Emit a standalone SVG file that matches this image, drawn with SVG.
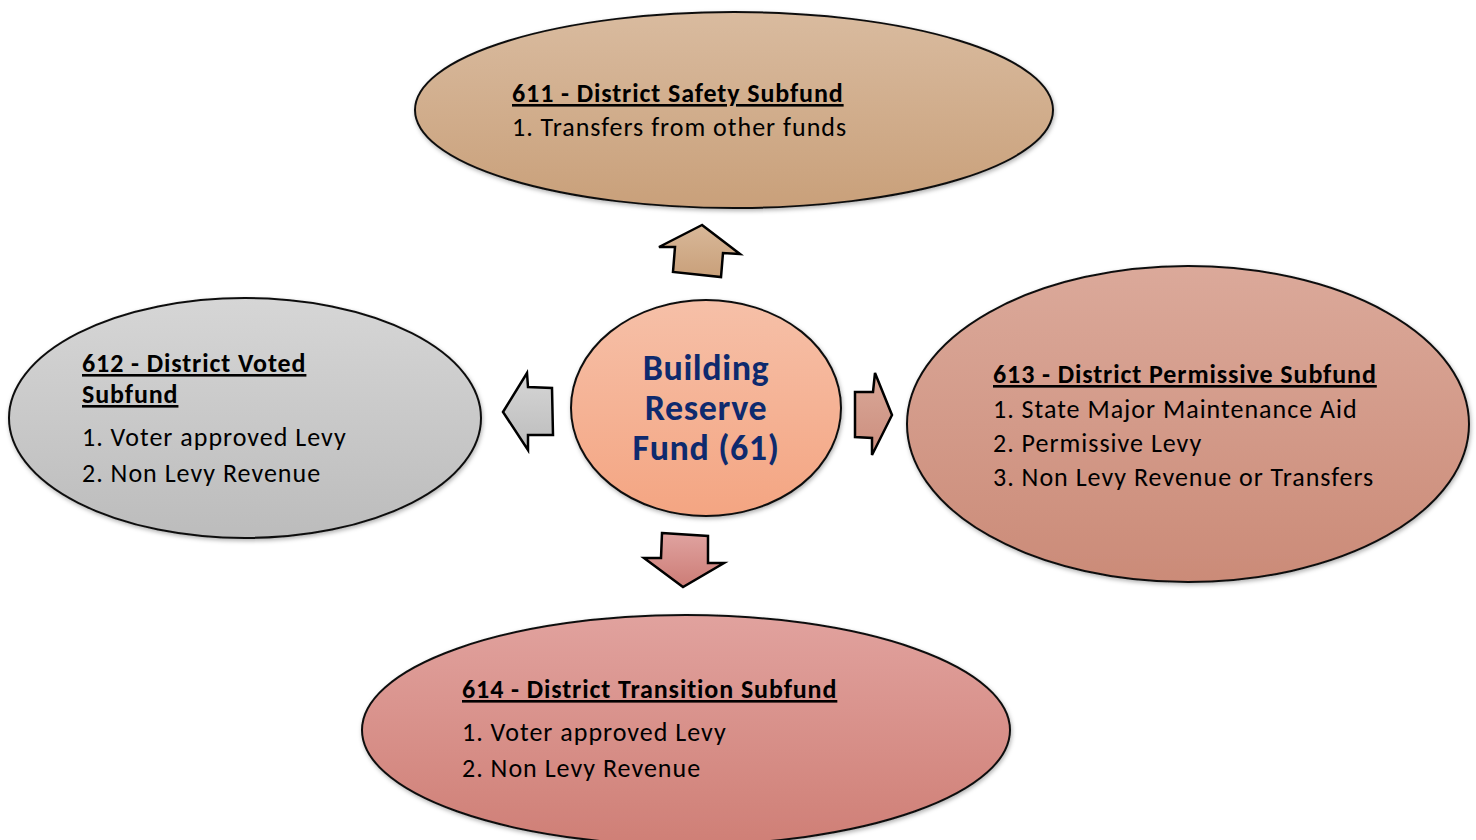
<svg xmlns="http://www.w3.org/2000/svg" width="1476" height="840" viewBox="0 0 1476 840">
<defs>
<linearGradient id="gTop" x1="0" y1="0" x2="0" y2="1"><stop offset="0" stop-color="#d9bb9f"/><stop offset="1" stop-color="#c9a07a"/></linearGradient>
<linearGradient id="gCenter" x1="0" y1="0" x2="0" y2="1"><stop offset="0" stop-color="#f6c0a8"/><stop offset="1" stop-color="#f4a582"/></linearGradient>
<linearGradient id="gLeft" x1="0" y1="0" x2="0" y2="1"><stop offset="0" stop-color="#d6d6d6"/><stop offset="1" stop-color="#bcbcbc"/></linearGradient>
<linearGradient id="gRight" x1="0" y1="0" x2="0" y2="1"><stop offset="0" stop-color="#dba99a"/><stop offset="1" stop-color="#cb8b78"/></linearGradient>
<linearGradient id="gBottom" x1="0" y1="0" x2="0" y2="1"><stop offset="0" stop-color="#e1a29e"/><stop offset="1" stop-color="#cf7f76"/></linearGradient>
<linearGradient id="gArrUp" x1="0" y1="0" x2="0" y2="1"><stop offset="0" stop-color="#d8b899"/><stop offset="1" stop-color="#c9a07a"/></linearGradient>
<linearGradient id="gArrRight" x1="0" y1="0" x2="0" y2="1"><stop offset="0" stop-color="#d9a898"/><stop offset="1" stop-color="#cc8e7e"/></linearGradient>
<linearGradient id="gArrDown" x1="0" y1="0" x2="0" y2="1"><stop offset="0" stop-color="#e0a3a0"/><stop offset="1" stop-color="#cc7c76"/></linearGradient>
<filter id="sh" x="-10%" y="-10%" width="120%" height="125%"><feDropShadow dx="1" dy="2" stdDeviation="2" flood-color="#000" flood-opacity="0.3"/></filter>
</defs>
<style>
.shape{stroke:#111;stroke-width:2;filter:url(#sh)}
.arrow{stroke:#000;stroke-width:2.5;stroke-linejoin:miter}
text{font-family:Carlito,Lato,"Liberation Sans",sans-serif;fill:#000;font-variant-ligatures:none}
.title{font-size:26px;font-weight:bold;text-decoration:underline;letter-spacing:0.9px}
.item{font-size:26px;letter-spacing:1px}
.center{font-size:36px;font-weight:bold;fill:#0e2a6e;text-anchor:middle;letter-spacing:0.6px}
</style>
<g id="connectors">
<polygon class="arrow" fill="url(#gArrUp)" points="702,225 659,247 675,247 673,272 721,277 723,253 740,254"/>
<polygon class="arrow" fill="url(#gArrRight)" points="855,392 873,392 875,373 892,415 872,455 872,438 855,437"/>
<polygon class="arrow" fill="url(#gArrDown)" points="662,533 708,536 708,563 724,563 683,587 644,558 661,558"/>
<polygon class="arrow" fill="url(#gLeft)" points="503,412 527,373 528,387 552,388 553,435 528,435 528,450"/>
</g>
<g id="node-611">
<ellipse class="shape" cx="734" cy="110" rx="319" ry="98" fill="url(#gTop)"/>
<text class="title" x="512" y="102">611 - District Safety Subfund</text>
<text class="item" x="512" y="136">1. Transfers from other funds</text>
</g>
<g id="node-612">
<ellipse class="shape" cx="245" cy="418" rx="236" ry="120" fill="url(#gLeft)"/>
<text class="title" x="82" y="372">612 - District Voted</text>
<text class="title" x="82" y="403">Subfund</text>
<text class="item" x="82" y="446">1. Voter approved Levy</text>
<text class="item" x="82" y="482">2. Non Levy Revenue</text>
</g>
<g id="node-613">
<ellipse class="shape" cx="1188" cy="424" rx="281" ry="158" fill="url(#gRight)"/>
<text class="title" x="993" y="383">613 - District Permissive Subfund</text>
<text class="item" x="993" y="418">1. State Major Maintenance Aid</text>
<text class="item" x="993" y="452">2. Permissive Levy</text>
<text class="item" x="993" y="486">3. Non Levy Revenue or Transfers</text>
</g>
<g id="node-614">
<ellipse class="shape" cx="686" cy="730" rx="324" ry="115" fill="url(#gBottom)"/>
<text class="title" x="462" y="698">614 - District Transition Subfund</text>
<text class="item" x="462" y="741">1. Voter approved Levy</text>
<text class="item" x="462" y="777">2. Non Levy Revenue</text>
</g>
<g id="node-61">
<ellipse class="shape" cx="706" cy="408" rx="135" ry="108" fill="url(#gCenter)"/>
<text class="center" x="706" y="380">Building</text>
<text class="center" x="706" y="420">Reserve</text>
<text class="center" x="706" y="460">Fund (61)</text>
</g>
</svg>
